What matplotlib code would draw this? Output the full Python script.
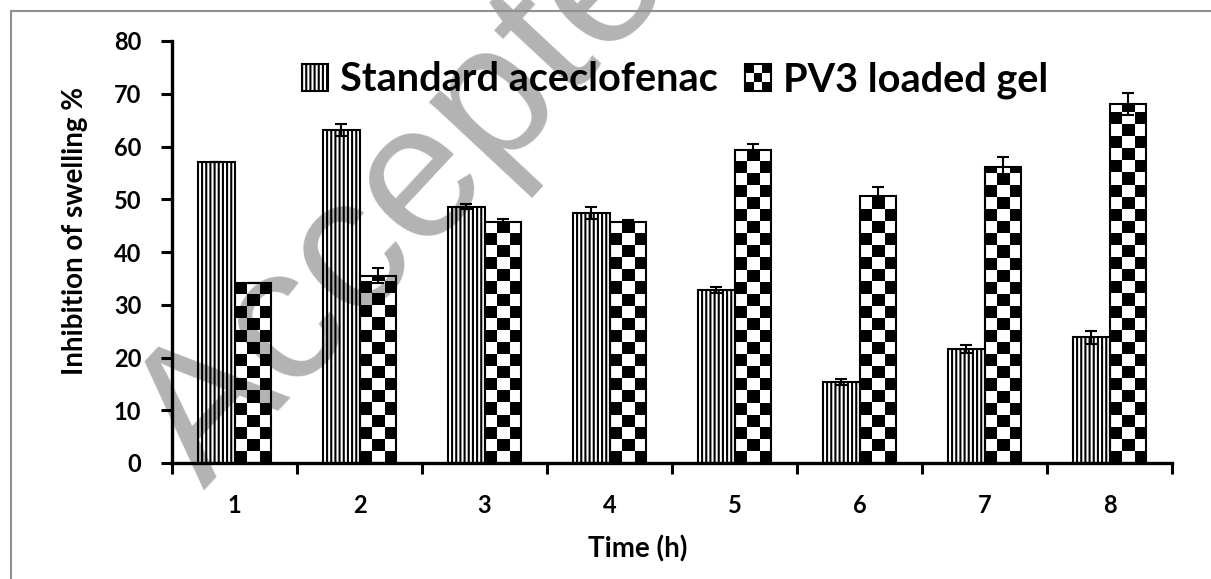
import numpy as np
import matplotlib
matplotlib.use("Agg")
import matplotlib.pyplot as plt
from matplotlib.patches import Patch, Rectangle
from matplotlib.legend_handler import HandlerBase

# data
hours = ["1", "2", "3", "4", "5", "6", "7", "8"]
standard = [57.0, 63.1, 48.6, 47.4, 32.8, 15.3, 21.6, 23.8]
standard_err = [0.0, 1.1, 0.5, 1.1, 0.6, 0.6, 0.7, 1.2]
pv3 = [34.1, 35.5, 45.6, 45.6, 59.3, 50.7, 56.1, 68.1]
pv3_err = [0.0, 1.4, 0.7, 0.4, 1.1, 1.6, 2.0, 2.1]
series_names = ["Standard aceclofenac", "PV3 loaded gel"]

plt.rcParams['font.family'] = ['Lato', 'DejaVu Sans']
plt.rcParams['font.weight'] = 'bold'
plt.rcParams['hatch.linewidth'] = 1.5


class CheckerHandler(HandlerBase):
    # legend key drawn as a small checker board
    def create_artists(self, legend, orig_handle, xdescent, ydescent,
                       width, height, fontsize, trans):
        arts = []
        n = 3
        for i in range(n):
            for j in range(n):
                col = 'black' if (i + j) % 2 == 0 else 'white'
                arts.append(Rectangle((-xdescent + i * width / n, -ydescent + j * height / n),
                                      width / n, height / n, facecolor=col,
                                      edgecolor='none', transform=trans))
        arts.append(Rectangle((-xdescent, -ydescent), width, height, facecolor='none',
                              edgecolor='black', lw=1.5, transform=trans))
        return arts


fig = plt.figure(figsize=(12.11, 5.79), dpi=100)
ax = fig.add_axes([172 / 1211, 1 - 463 / 579, 1000 / 1211, 422 / 579])
ax.patch.set_alpha(0)

# watermark behind the chart
fig.text(0.364, 0.715, "Accepted", fontsize=138, color='#b3b3b3', rotation=47,
         ha='center', va='center', rotation_mode='anchor', fontweight='normal',
         family='Liberation Sans', zorder=-5)

# page frame
fig.add_artist(Rectangle((11 / 1211, -0.1), 1.2, 1.1 - 11 / 579, fill=False,
                         edgecolor='#8f8f8f', lw=1.5, transform=fig.transFigure))

x = np.arange(1, len(hours) + 1)
w = 0.29
ax.set_xlim(0.5, len(hours) + 0.5)
ax.set_ylim(0, 80)

sbars = ax.bar(x - w / 2, standard, w, facecolor='none', edgecolor='black',
               hatch='||||', lw=1.5, zorder=3)
pbars = ax.bar(x + w / 2, pv3, w, facecolor='none', edgecolor='black',
               lw=1.5, zorder=3)

# checker fill for the gel bars, squares kept square in pixels
p0, p1 = ax.transData.transform([(0, 0), (1, 1)])
px_per_x = p1[0] - p0[0]
px_per_y = p1[1] - p0[1]
for b in pbars:
    x0, bw, bh = b.get_x(), b.get_width(), b.get_height()
    sq_h = (bw / 3) * px_per_x / px_per_y
    rows = int(np.ceil(bh / sq_h))
    grid = np.add.outer(np.arange(rows), np.arange(3)) % 2
    img = np.zeros((rows, 3, 4))
    img[..., 3] = (grid == 0).astype(float)
    im = ax.imshow(img, extent=(x0, x0 + bw, 0, rows * sq_h), origin='lower',
                   interpolation='nearest', aspect='auto', zorder=2)
    im.set_clip_path(b)

ax.errorbar(x - w / 2, standard, yerr=standard_err, fmt='none', ecolor='black',
            elinewidth=1.5, capsize=4, capthick=1.5, zorder=4)
ax.errorbar(x + w / 2, pv3, yerr=pv3_err, fmt='none', ecolor='black',
            elinewidth=1.5, capsize=4, capthick=1.5, zorder=4)

ax.set_xlim(0.5, len(hours) + 0.5)
ax.set_ylim(0, 80)
ax.set_aspect('auto')

for s in ['top', 'right']:
    ax.spines[s].set_visible(False)
for s in ['left', 'bottom']:
    ax.spines[s].set_linewidth(2.4)

ax.set_yticks(np.arange(0, 81, 10))
ax.tick_params(axis='y', direction='out', length=8, width=2.2, pad=14, labelsize=17)
ax.set_xticks(np.arange(len(hours) + 1) + 0.5, labels=[])
ax.set_xticks(x, labels=hours, minor=True)
ax.tick_params(axis='x', which='major', direction='out', length=8, width=2.2)
ax.tick_params(axis='x', which='minor', length=0, pad=22, labelsize=17)

ax.set_ylabel("Inhibition of swelling %", fontsize=20, fontweight='bold')
ax.yaxis.set_label_coords(-0.084, 0.55)
ax.set_xlabel("Time (h)", fontsize=20, fontweight='bold')
ax.xaxis.set_label_coords(0.466, -0.171)

h1 = Patch(facecolor='none', edgecolor='black', hatch='||||', lw=1.5)
h2 = Patch(facecolor='white', edgecolor='black')
ax.legend([h1, h2], series_names, handler_map={h2: CheckerHandler()},
          loc='center', bbox_to_anchor=(0.503, 0.907), ncol=2, frameon=False,
          handlelength=0.65, handleheight=0.65, handletextpad=0.3,
          columnspacing=0.7, prop={'weight': 'bold', 'size': 28.5})

fig.savefig("out.png", dpi=100)
